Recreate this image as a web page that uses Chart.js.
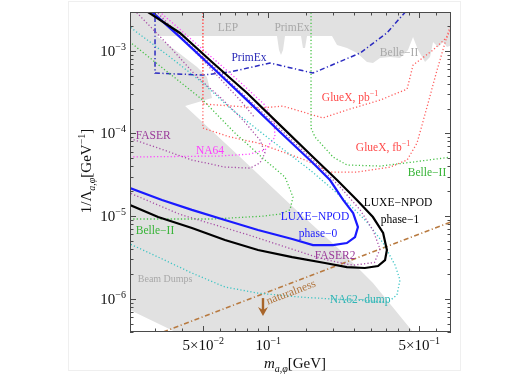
<!DOCTYPE html>
<html>
<head>
<meta charset="utf-8">
<script src="https://cdn.jsdelivr.net/npm/chart.js@4/dist/chart.umd.min.js"></script>
<style>
  html, body { margin: 0; padding: 0; background: #fff; }
  #wrap { position: relative; width: 529px; height: 374px; }
  #card { position: absolute; left: 68px; top: 1px; width: 391px; height: 368px; border: 1px solid #efefef; }
  canvas { position: absolute; left: 0; top: 0; }
</style>
</head>
<body>
<div id="wrap"><div id="card"></div><canvas id="chart" width="529" height="374"></canvas></div>
<script>
/**
 * Axion / scalar coupling reach, m [GeV] vs 1/Lambda [GeV^-1]
 */

// axis range
const xRange = [0.0229, 0.701]
const yRange = [3.97e-7, 2.94e-3]

// tick marks and labels
const xTickVals   = [0.05, 0.1, 0.5]
const xTickLabels = [['5×10', '−2'], ['10', '−1'], ['5×10', '−1']]
const xMinorVals  = [0.03, 0.04, 0.06, 0.07, 0.08, 0.09, 0.15, 0.2, 0.25, 0.3, 0.35, 0.4, 0.45, 0.6]
const yTickVals   = [1e-6, 1e-5, 1e-4, 1e-3]
const yTickLabels = [['10', '−6'], ['10', '−5'], ['10', '−4'], ['10', '−3']]

// curves, [m, 1/Lambda]
const luxePhase1 = [[0.0265, 3.6e-3], [0.0277, 2.94e-3], [0.039, 1.64e-3], [0.0555, 7.1e-4], [0.0797, 3.08e-4],
  [0.1133, 1.26e-4], [0.161, 5.18e-5], [0.208, 2.73e-5], [0.257, 1.57e-5], [0.305, 9.75e-6], [0.340, 6.25e-6],
  [0.354, 3.89e-6], [0.347, 2.94e-6], [0.322, 2.49e-6], [0.280, 2.36e-6], [0.231, 2.42e-6], [0.183, 2.71e-6],
  [0.129, 3.2e-6], [0.0896, 3.89e-6], [0.063, 5.14e-6], [0.0443, 7.18e-6], [0.0309, 9.75e-6], [0.0229, 1.36e-5],
  [0.021, 1.5e-5]]
const luxePhase0 = [[0.0278, 3.6e-3], [0.029, 2.94e-3], [0.039, 1.46e-3], [0.0555, 6.18e-4], [0.0797, 2.53e-4],
  [0.1133, 1.04e-4], [0.161, 4.39e-5], [0.193, 2.73e-5], [0.222, 1.57e-5], [0.247, 1.09e-5], [0.26, 7.38e-6],
  [0.252, 5.59e-6], [0.231, 4.73e-6], [0.199, 4.47e-6], [0.161, 4.47e-6], [0.129, 5.28e-6], [0.0896, 6.79e-6],
  [0.063, 8.97e-6], [0.0443, 1.19e-5], [0.0322, 1.57e-5], [0.0229, 2.19e-5], [0.021, 2.4e-5]]
const faser2 = [[0.0285, 3.4e-3], [0.0293, 2.94e-3], [0.0555, 6.53e-4], [0.1133, 1.13e-4], [0.161, 4.77e-5],
  [0.215, 2.25e-5], [0.266, 1.19e-5], [0.305, 6.79e-6], [0.329, 4.0e-6], [0.31, 2.75e-6], [0.2466, 2.55e-6],
  [0.193, 2.9e-6], [0.161, 3.3e-6], [0.0797, 6.0e-6], [0.039, 1.05e-5], [0.0229, 1.9e-5], [0.021, 2.1e-5]]
const na62dump = [[0.021, 2.2e-3], [0.0229, 1.93e-3], [0.0351, 8.39e-4], [0.0498, 4.07e-4], [0.0665, 2.03e-4],
  [0.0986, 9.05e-5], [0.156, 3.61e-5], [0.193, 2.25e-5], [0.239, 1.36e-5], [0.286, 8.49e-6], [0.340, 4.73e-6],
  [0.386, 2.56e-6], [0.407, 1.69e-6], [0.394, 1.11e-6], [0.358, 9.15e-7], [0.296, 9.41e-7], [0.199, 9.94e-7],
  [0.140, 1.05e-6], [0.0896, 1.17e-6], [0.063, 1.39e-6], [0.0443, 2.05e-6], [0.0309, 3.2e-6], [0.0229, 4.6e-6],
  [0.021, 5.2e-6]]
const belle2Low = [[0.0215, 1.45e-3], [0.0498, 2.53e-4], [0.0701, 1.01e-4], [0.0965, 4.77e-5], [0.1195, 2.97e-5],
  [0.1301, 1.7e-5], [0.126, 1.19e-5], [0.1133, 1.06e-5], [0.0945, 1.0e-5], [0.0555, 9.23e-6], [0.0215, 9.23e-6]]
const belle2High = [[0.1577, 3.5e-3], [0.1577, 1.16e-4], [0.1645, 9.05e-5], [0.1994, 5.18e-5], [0.2314, 4.15e-5],
  [0.329, 4.03e-5], [0.468, 4.51e-5], [0.75, 5.3e-5]]
const glueXpb = [[0.0498, 3.5e-3], [0.0498, 2.27e-4], [0.0687, 2.14e-4], [0.0915, 2.03e-4], [0.117, 2.14e-4],
  [0.161, 1.67e-4], [0.179, 1.54e-4], [0.231, 1.92e-4], [0.329, 2.53e-4], [0.439, 3.44e-4], [0.468, 6.72e-4],
  [0.579, 1.02e-3], [0.672, 1.46e-3], [0.72, 2.2e-3]]
const glueXfb = [[0.0498, 3.5e-3], [0.0498, 1.16e-4], [0.0665, 9.05e-5], [0.0896, 7.65e-5], [0.148, 4.77e-5],
  [0.193, 3.41e-5], [0.257, 3.41e-5], [0.366, 3.92e-5], [0.439, 4.77e-5], [0.488, 7.65e-5], [0.543, 2.09e-4],
  [0.604, 5.84e-4], [0.672, 1.5e-3], [0.71, 2.35e-3]]
const na64 = [[0.0305, 3.2e-3], [0.0315, 2.94e-3], [0.052, 9.38e-4], [0.074, 4.18e-4], [0.0965, 2.2e-4],
  [0.1063, 1.37e-4], [0.1074, 9.05e-5], [0.0965, 6.3e-5], [0.0823, 5.63e-5], [0.0598, 5.33e-5], [0.021, 5.18e-5]]
const faser = [[0.024, 3.1e-3], [0.0247, 2.86e-3], [0.0351, 1.11e-3], [0.0468, 4.81e-4], [0.0598, 2.75e-4],
  [0.0764, 1.45e-4], [0.0915, 8.32e-5], [0.0965, 5.79e-5], [0.0915, 4.39e-5], [0.0823, 3.81e-5], [0.063, 3.92e-5],
  [0.0443, 4.77e-5], [0.0309, 6.66e-5], [0.021, 9.4e-5]]
const faserB = [[0.0295, 3.3e-3], [0.0305, 2.94e-3], [0.0483, 8.39e-4], [0.074, 2.53e-4], [0.0868, 1.54e-4]]
const primEx = [[0.0299, 3.5e-3], [0.0299, 5.37e-4], [0.0498, 5.08e-4], [0.0665, 5.53e-4], [0.1018, 7.1e-4],
  [0.161, 5.37e-4], [0.266, 9.38e-4], [0.354, 1.64e-3], [0.439, 3.11e-3]]
const naturalness = [[0.0326, 3.97e-7], [0.701, 8.5e-6]]

// excluded regions (gray)
const topBand = [[0.02, 1.505e-3], [0.1097, 1.505e-3], [0.1121, 1.02e-3], [0.1145, 8.87e-4], [0.117, 1.02e-3],
  [0.1195, 1.505e-3], [0.1417, 1.505e-3], [0.1447, 1.078e-3], [0.1479, 1.078e-3], [0.1511, 1.505e-3],
  [0.1972, 1.505e-3], [0.208, 1.172e-3], [0.2314, 1.078e-3], [0.2574, 9.38e-4], [0.2863, 7.3e-4], [0.3052, 7.1e-4],
  [0.3289, 8.16e-4], [0.366, 8.39e-4], [0.4071, 8.16e-4], [0.4434, 1.02e-3], [0.4677, 1.464e-3], [0.4934, 1.02e-3],
  [0.5315, 7.3e-4], [0.5606, 8.39e-4], [0.5788, 1.274e-3], [0.6104, 1.108e-3], [0.6437, 1.274e-3],
  [0.6718, 1.108e-3], [0.75, 1.24e-3], [0.75, 5e-3], [0.02, 5e-3]]
const beamDumps = [[0.02, 1.505e-3], [0.0305, 1.505e-3], [0.0468, 6.35e-4], [0.052, 4.81e-4], [0.0549, 2.68e-4],
  [0.0412, 2.14e-4], [0.074, 5.18e-5], [0.1301, 1.29e-5], [0.2147, 3.89e-6], [0.3052, 1.55e-6], [0.4677, 3.97e-7],
  [0.52, 2.8e-7], [0.0416, 3.45e-7], [0.0229, 7.32e-7], [0.02, 8.5e-7]]

// naturalness arrow, [m, 1/Lambda]
const arrowFrom = [0.0945, 1.02e-6]
const arrowTo   = [0.0945, 6.2e-7]

const SERIF = '"Liberation Serif", "DejaVu Serif", serif'

// text labels on the plot
const notes = [
  {parts: [{t: 'LEP'}], at: [0.0651, 1.93e-3], color: '#a8a8a8'},
  {parts: [{t: 'PrimEx'}], at: [0.1287, 1.93e-3], color: '#a8a8a8'},
  {parts: [{t: 'Belle−II'}], at: [0.403, 9.64e-4], color: '#a8a8a8'},
  {parts: [{t: 'PrimEx'}], at: [0.0814, 8.39e-4], color: '#2b2bb8'},
  {parts: [{t: 'GlueX, pb'}, {t: '−1', sup: true}], at: [0.239, 2.75e-4], color: '#ff4a4a'},
  {parts: [{t: 'GlueX, fb'}, {t: '−1', sup: true}], at: [0.340, 6.85e-5], color: '#ff4a4a'},
  {parts: [{t: 'Belle−II'}], at: [0.543, 3.41e-5], color: '#36b336'},
  {parts: [{t: 'FASER'}], at: [0.0293, 9.57e-5], color: '#9a3a9a'},
  {parts: [{t: 'NA64'}], at: [0.0537, 6.3e-5], color: '#ff3cff'},
  {parts: [{t: 'LUXE−NPOD'}], at: [0.3985, 1.48e-5], color: '#000000'},
  {parts: [{t: 'phase−1'}], at: [0.407, 9.23e-6], color: '#000000'},
  {parts: [{t: 'LUXE−NPOD'}], at: [0.1645, 1.0e-5], color: '#1a1aff'},
  {parts: [{t: 'phase−0'}], at: [0.170, 6.25e-6], color: '#1a1aff'},
  {parts: [{t: 'Belle−II'}], at: [0.0299, 6.79e-6], color: '#36b336'},
  {parts: [{t: 'FASER2'}], at: [0.2037, 3.38e-6], color: '#9a3a9a'},
  {parts: [{t: 'Beam Dumps'}], at: [0.0333, 1.78e-6], color: '#a8a8a8', size: 10},
  {parts: [{t: 'NA62−dump'}], at: [0.266, 9.94e-7], color: '#2fb5b5'},
  {parts: [{t: 'naturalness'}], at: [0.127, 1.22e-6], color: '#b0733a', angle: -21}
]

function toXY (pts) {
  return pts.map(p => ({x: p[0], y: p[1]}))
}

function curve (label, pts, color, width, dash, order) {
  return {
    label      : label,
    data       : toXY(pts),
    showLine   : true,
    borderColor: color,
    borderWidth: width,
    borderDash : dash || [],
    pointRadius: 0,
    fill       : false,
    tension    : 0,
    order      : order,
    clip       : 0
  }
}

function region (label, pts, color) {
  return {
    label          : label,
    data           : toXY(pts),
    showLine       : true,
    borderColor    : color,
    borderWidth    : 0,
    backgroundColor: color,
    pointRadius    : 0,
    fill           : 'shape',
    tension        : 0,
    order          : 10,
    clip           : 0
  }
}

function fontOf (p, size) {
  let s = p.sup || p.sub ? Math.round(size * 0.68) : size
  return (p.italic ? 'italic ' : '') + s + 'px ' + SERIF
}

// draws text made of pieces, some raised or lowered
function rich (ctx, parts, x, y, align, size) {
  let w = 0
  parts.forEach(p => {
    ctx.font = fontOf(p, size)
    p.w = ctx.measureText(p.t).width
    w += p.w
  })
  let cx = align === 'center' ? x - w / 2 : align === 'right' ? x - w : x
  ctx.textAlign = 'left'
  ctx.textBaseline = 'alphabetic'
  parts.forEach(p => {
    ctx.font = fontOf(p, size)
    let dy = p.sup ? -size * 0.4 : p.sub ? size * 0.28 : 0
    ctx.fillText(p.t, cx, y + dy)
    cx += p.w
  })
}

const annotations = {
  id: 'annotations',
  afterDatasetsDraw (chart) {
    const ctx = chart.ctx, xs = chart.scales.x, ys = chart.scales.y
    const a = chart.chartArea

    // arrow below naturalness line
    let ax = xs.getPixelForValue(arrowFrom[0]), ay0 = ys.getPixelForValue(arrowFrom[1]),
        ay1 = ys.getPixelForValue(arrowTo[1])
    ctx.save()
    ctx.strokeStyle = '#a8652a'
    ctx.fillStyle = '#a8652a'
    ctx.lineWidth = 2.4
    ctx.beginPath()
    ctx.moveTo(ax, ay0)
    ctx.lineTo(ax, ay1 - 6)
    ctx.stroke()
    ctx.beginPath()
    ctx.moveTo(ax - 5, ay1 - 9)
    ctx.lineTo(ax, ay1)
    ctx.lineTo(ax + 5, ay1 - 9)
    ctx.lineTo(ax, ay1 - 6)
    ctx.closePath()
    ctx.fill()
    ctx.restore()

    // labels
    notes.forEach(n => {
      let px = xs.getPixelForValue(n.at[0]), py = ys.getPixelForValue(n.at[1])
      ctx.save()
      ctx.fillStyle = n.color
      ctx.translate(px, py)
      if (n.angle) ctx.rotate(n.angle * Math.PI / 180)
      rich(ctx, n.parts, 0, 4, 'center', n.size || 11.5)
      ctx.restore()
    })

    // frame and inward ticks
    ctx.save()
    ctx.strokeStyle = '#4a4a4a'
    ctx.lineWidth = 1
    ctx.strokeRect(a.left + 0.5, a.top + 0.5, a.right - a.left - 1, a.bottom - a.top - 1)
    ctx.beginPath()
    function xTick (v, len) {
      let px = Math.round(xs.getPixelForValue(v)) + 0.5
      ctx.moveTo(px, a.bottom); ctx.lineTo(px, a.bottom - len)
      ctx.moveTo(px, a.top); ctx.lineTo(px, a.top + len)
    }
    function yTick (v, len) {
      let py = Math.round(ys.getPixelForValue(v)) + 0.5
      ctx.moveTo(a.left, py); ctx.lineTo(a.left + len, py)
      ctx.moveTo(a.right, py); ctx.lineTo(a.right - len, py)
    }
    xTickVals.forEach(v => xTick(v, 6))
    xMinorVals.forEach(v => xTick(v, 3.5))
    yTickVals.forEach(v => yTick(v, 6))
    for (let e = -7; e <= -3; e++) {
      for (let k = 2; k <= 9; k++) {
        let v = k * Math.pow(10, e)
        if (v > yRange[0] && v < yRange[1]) yTick(v, 3.5)
      }
    }
    ctx.stroke()
    ctx.restore()
  },
  afterDraw (chart) {
    const ctx = chart.ctx, xs = chart.scales.x, ys = chart.scales.y
    ctx.save()
    ctx.fillStyle = '#111'
    xTickVals.forEach((v, i) => {
      let lab = xTickLabels[i]
      rich(ctx, [{t: lab[0]}, {t: lab[1], sup: true}], xs.getPixelForValue(v), 350, 'center', 15)
    })
    yTickVals.forEach((v, i) => {
      let lab = yTickLabels[i]
      rich(ctx, [{t: lab[0]}, {t: lab[1], sup: true}], 126, ys.getPixelForValue(v) + 5, 'right', 15)
    })

    // axis titles
    rich(ctx, [{t: 'm', italic: true}, {t: 'a,φ', italic: true, sub: true}, {t: '[GeV]'}], 295, 368, 'center', 15)
    ctx.translate(91, 171)
    ctx.rotate(-Math.PI / 2)
    rich(ctx, [{t: '1/Λ'}, {t: 'a,φ', italic: true, sub: true}, {t: '[GeV'}, {t: '−1', sup: true}, {t: ']'}],
      0, 0, 'center', 15)
    ctx.restore()
  }
}

const dotted = [1.2, 2.2]
const dashDot = [5, 2.5, 1.2, 2.5]

new Chart(document.getElementById('chart'), {
  type   : 'scatter',
  data   : {
    datasets: [
      curve('LUXE-NPOD phase-1', luxePhase1, '#000000', 2.2, null, 0),
      curve('LUXE-NPOD phase-0', luxePhase0, '#1a1aff', 2.2, null, 1),
      curve('FASER2', faser2, '#a64ca6', 1.3, dotted, 2),
      curve('NA62-dump', na62dump, '#3cc4c4', 1.3, dotted, 2),
      curve('Belle-II', belle2Low, '#45c045', 1.3, dotted, 2),
      curve('Belle-II (high)', belle2High, '#45c045', 1.3, dotted, 2),
      curve('GlueX pb', glueXpb, '#ff5c5c', 1.3, dotted, 2),
      curve('GlueX fb', glueXfb, '#ff5c5c', 1.3, dotted, 2),
      curve('NA64', na64, '#ff45ff', 1.3, dotted, 2),
      curve('FASER', faser, '#a64ca6', 1.3, dotted, 2),
      curve('FASER (b)', faserB, '#a64ca6', 1.3, dotted, 2),
      curve('PrimEx', primEx, '#2b2bc0', 1.5, dashDot, 2),
      curve('naturalness', naturalness, '#b87a40', 1.6, dashDot, 2),
      region('LEP / PrimEx / Belle-II', topBand, '#e1e1e1'),
      region('Beam Dumps', beamDumps, '#e1e1e1')
    ]
  },
  options: {
    responsive: false,
    animation : false,
    events    : [],
    layout    : {padding: {left: 130, top: 12, right: 78, bottom: 42}},
    plugins   : {legend: {display: false}, tooltip: {enabled: false}},
    scales    : {
      x: {type: 'logarithmic', min: xRange[0], max: xRange[1], display: false},
      y: {type: 'logarithmic', min: yRange[0], max: yRange[1], display: false}
    }
  },
  plugins: [annotations]
})
</script>
</body>
</html>
